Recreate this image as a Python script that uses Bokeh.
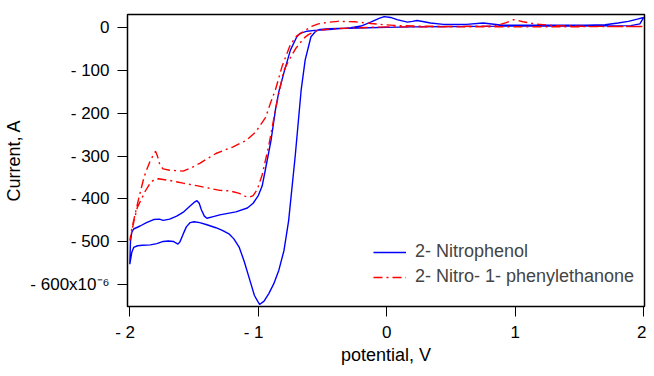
from bokeh.plotting import figure
from bokeh.models import FixedTicker, Range1d, Legend, LegendItem
from bokeh.embed import file_html
from bokeh.resources import INLINE

# ---- data (current in units of 1e-6 A, potential in V) ----
nitrophenol_x = [
    0.00, -0.15, -0.30, -0.45, -0.52, -0.55, -0.59, -0.635, -0.666, -0.712, -0.764, -0.80, -0.84, -0.88,
    -0.917, -0.955, -0.99, -1.03, -1.07, -1.11, -1.148, -1.19, -1.225, -1.28, -1.33, -1.40, -1.456, -1.50,
    -1.53, -1.56, -1.585, -1.61, -1.625, -1.645, -1.66, -1.70, -1.74, -1.79, -1.84, -1.90, -1.94, -1.97,
    -1.985, -2.0,
    -1.995, -1.985, -1.97, -1.92, -1.87, -1.815, -1.77, -1.74, -1.69, -1.635, -1.58, -1.533, -1.50, -1.477,
    -1.46, -1.443, -1.42, -1.40, -1.35, -1.30, -1.174, -1.085, -1.04, -1.00, -0.97, -0.943, -0.90, -0.866,
    -0.84, -0.80, -0.75, -0.70, -0.674, -0.62, -0.56, -0.45, -0.35, -0.28, -0.20, -0.125, -0.06, -0.02,
    0.03, 0.08, 0.16, 0.20, 0.235, 0.29, 0.34, 0.44, 0.62, 0.75, 0.90, 1.13, 1.39, 1.55, 1.70, 1.80, 1.88,
    1.95, 2.0,
    1.97, 1.90, 1.50, 1.00, 0.50, 0.20, 0.0,
]
nitrophenol_y = [
    0, -1, -2, -3, -5, -8, -22, -76, -145, -298, -451, -520, -566, -598,
    -620, -638, -646, -625, -585, -545, -513, -493, -482, -473, -467, -460, -455, -453,
    -455, -465, -482, -500, -505, -502, -499, -498, -499, -504, -507, -508, -509, -513,
    -525, -552,
    -500, -478, -470, -463, -455, -448, -447, -450, -447, -440, -430, -417, -408, -404,
    -410, -425, -440, -445, -441, -437, -430, -421, -410, -392, -370, -329, -262, -191,
    -150, -105, -53, -22, -14, -9, -7, -5, -3, -1, 3, 12, 21, 25,
    23, 18, 12, 14, 16, 13, 10, 7, 7, 10, 5, 5, 5, 5, 6, 10, 14,
    19, 23,
    8, 4, 3, 3, 2, 1, 0,
]

phenylethanone_x = [
    0.0, -0.07, -0.225, -0.38, -0.48, -0.533, -0.57, -0.61, -0.64, -0.674, -0.71, -0.764, -0.80, -0.83,
    -0.866, -0.918, -0.97, -1.008, -1.04, -1.07, -1.10, -1.148, -1.225, -1.30, -1.38, -1.48, -1.585,
    -1.687, -1.777, -1.81, -1.84, -1.88, -1.943, -1.97, -2.0,
    -1.985, -1.97, -1.93, -1.89, -1.87, -1.84, -1.80, -1.785, -1.765, -1.74, -1.69, -1.585, -1.52, -1.456,
    -1.33, -1.20, -1.097, -1.02, -0.943, -0.90, -0.866, -0.815, -0.75, -0.70, -0.635, -0.58, -0.533,
    -0.45, -0.38, -0.25, -0.123, -0.02, 0.057, 0.2, 0.5, 0.80, 0.85, 0.93, 0.99, 1.06, 1.16, 1.31, 1.49,
    1.75, 2.0,
    1.5, 1.0, 0.5, 0.0,
]
phenylethanone_y = [
    1, 0.5, -1, -3, -5, -7, -11, -17, -24, -36, -50, -78, -100, -140,
    -191, -275, -344, -378, -392, -396, -394, -387, -381, -380, -375, -369, -363,
    -357, -353, -355, -362, -382, -421, -455, -497,
    -470, -450, -398, -350, -333, -310, -289, -300, -322, -330, -333, -335, -327, -317,
    -294, -279, -264, -244, -210, -172, -145, -91, -40, -20, -7, 3, 8,
    12, 14, 13, 9, 6, 4.5, 3, 2, 3, 4, 11, 18, 13, 7.5, 4, 2.5,
    2, 2,
    1.5, 1.5, 1, 1,
]

x_ticks = [-2, -1, 0, 1, 2]
x_tick_labels = ["- 2\u00a0\u00a0", "- 1\u00a0\u00a0", "0", "1", "2"]
y_ticks = [0, -100, -200, -300, -400, -500, -600]
y_tick_labels = ["0", "- 100", "- 200", "- 300", "- 400", "- 500", "- 600x10\u207b\u2076"]
series_names = ["2- Nitrophenol", "2- Nitro- 1- phenylethanone"]

FONT = "Liberation Sans"

p = figure(width=646, height=368, output_backend="svg", toolbar_location=None,
           x_range=Range1d(-2.018, 2.006), y_range=Range1d(-650.6, 29.9),
           min_border_left=127, min_border_right=2, min_border_top=14, min_border_bottom=62)
p.grid.visible = False
p.outline_line_color = "black"
p.outline_line_width = 1.5
p.background_fill_color = "white"

r1 = p.line(nitrophenol_x, nitrophenol_y, line_color="#0000ff", line_width=1.4)
r2 = p.line(phenylethanone_x, phenylethanone_y, line_color="#ff0000", line_width=1.4,
            line_dash="9 4 2 4")

for ax in (p.xaxis[0], p.yaxis[0]):
    ax.minor_tick_line_color = None
    ax.major_tick_in = 0
    ax.major_tick_out = 10
    ax.axis_line_color = "black"
    ax.major_tick_line_color = "black"
    ax.axis_line_width = 1
    ax.major_label_text_font = FONT
    ax.major_label_text_font_size = "17px"
    ax.major_label_text_color = "black"
    ax.axis_label_text_font = FONT
    ax.axis_label_text_font_size = "18px"
    ax.axis_label_text_font_style = "normal"
    ax.axis_label_text_color = "black"

p.xaxis.ticker = FixedTicker(ticks=x_ticks)
p.xaxis.major_label_overrides = {t: l for t, l in zip(x_ticks, x_tick_labels)}
p.xaxis.major_label_standoff = 6
p.xaxis.axis_label = "potential, V"
p.xaxis.axis_label_standoff = 0

p.yaxis.ticker = FixedTicker(ticks=y_ticks)
p.yaxis.major_label_overrides = {t: l for t, l in zip(y_ticks, y_tick_labels)}
p.yaxis.major_label_standoff = 8
p.yaxis.axis_label = "Current, A"
p.yaxis.axis_label_standoff = 3

legend = Legend(items=[LegendItem(label=series_names[0], renderers=[r1]),
                       LegendItem(label=series_names[1], renderers=[r2])],
                location=(246, 19))
legend.label_text_font = FONT
legend.label_text_font_size = "18px"
legend.glyph_width = 33
legend.glyph_height = 20
legend.label_height = 20
legend.label_standoff = 9
legend.spacing = 4
legend.padding = 0
legend.margin = 0
legend.border_line_alpha = 0
legend.background_fill_alpha = 0
p.add_layout(legend, "center")

open("out.html", "w").write(file_html(p, INLINE))
